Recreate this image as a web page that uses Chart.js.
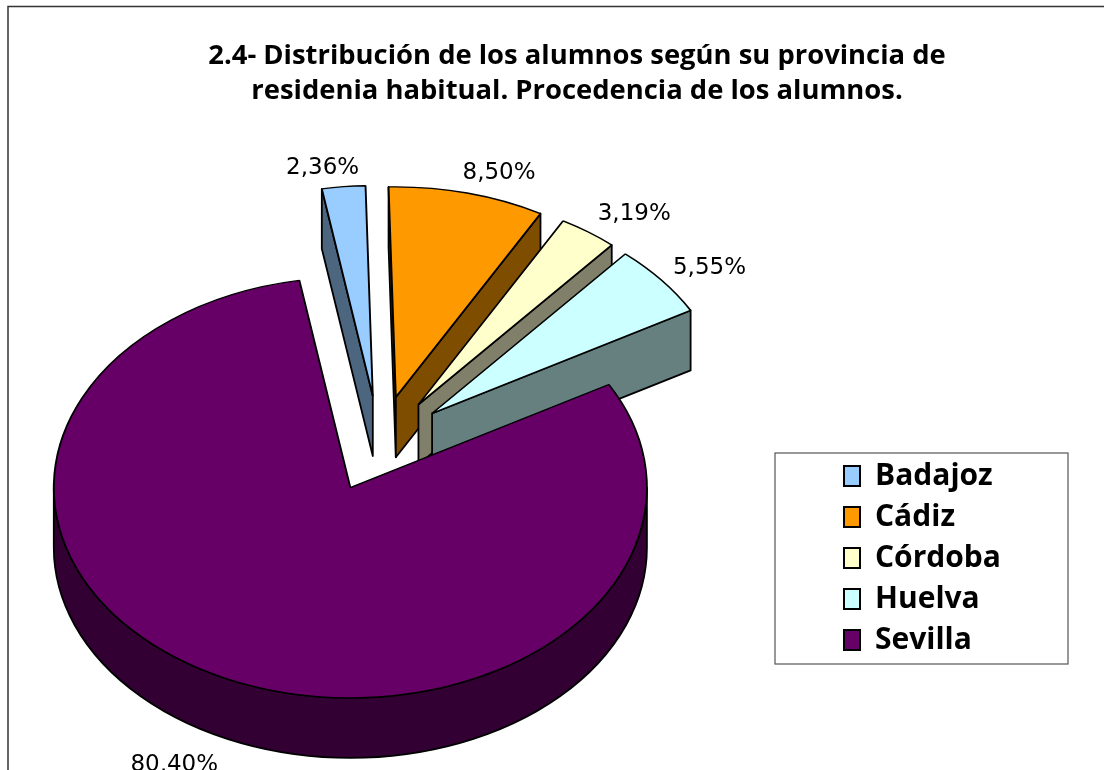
<!DOCTYPE html>
<html lang="es">
<head>
<meta charset="utf-8">
<title>Procedencia de los alumnos</title>
<script src="https://cdn.jsdelivr.net/npm/chart.js@4/dist/chart.umd.min.js"></script>
<style>html,body{margin:0;padding:0;background:#fff;overflow:hidden}canvas{display:block}</style>
</head>
<body>
<canvas id="c" width="1104" height="770"></canvas>
<script>
const provinces = ['Badajoz', 'Cádiz', 'Córdoba', 'Huelva', 'Sevilla'];
const shares = [2.36, 8.50, 3.19, 5.55, 80.40];
const topColors = ['#99CCFF', '#FF9900', '#FFFFCC', '#CCFFFF', '#660066'];
const sideColors = ['#4D667F', '#7F4D00', '#80806A', '#667F7F', '#330033'];
const titleLines = ['2.4- Distribución de los alumnos según su provincia de', 'residenia habitual. Procedencia de los alumnos.'];

// Style and layout of the tilted, exploded pie
const tilt = 211 / 297.5;
const depth = 60;
const explode = 68;
const pieArea = { left: 82, top: 146.5, right: 677, bottom: 741.5, width: 595, height: 595 };
const legendBox = { left: 775, top: 453, right: 1068, bottom: 664 };
const labelNudge = [[-21, -19], [32, -20], [46, -18], [48, -12], [-49, 87]];

function centre(arc) {
  const mid = (arc.startAngle + arc.endAngle) / 2;
  return { x: arc.x + explode * Math.cos(mid), y: arc.y + explode * tilt * Math.sin(mid), mid };
}

function wall(ctx, c, angle, r, color) {
  const rx = c.x + r * Math.cos(angle), ry = c.y + r * tilt * Math.sin(angle);
  ctx.beginPath();
  ctx.moveTo(c.x, c.y);
  ctx.lineTo(rx, ry);
  ctx.lineTo(rx, ry + depth);
  ctx.lineTo(c.x, c.y + depth);
  ctx.closePath();
  ctx.fillStyle = color;
  ctx.fill();
  ctx.stroke();
}

const pie3d = {
  id: 'pie3d',
  afterLayout(chart) {
    chart.chartArea = Object.assign({}, pieArea);
    const t = chart.titleBlock;
    t.left = 50; t.right = 1104; t.width = 1054;
    const l = chart.legend;
    l.left = 833; l.top = 450; l.right = legendBox.right; l.bottom = 720;
    l.width = l.right - l.left; l.height = l.bottom - l.top;
  },
  beforeDraw(chart) {
    const ctx = chart.ctx;
    ctx.save();
    ctx.fillStyle = '#fff';
    ctx.fillRect(0, 0, chart.width, chart.height);
    ctx.strokeStyle = '#333';
    ctx.lineWidth = 1.5;
    ctx.beginPath();
    ctx.moveTo(8, 770);
    ctx.lineTo(8, 6.5);
    ctx.lineTo(1104, 6.5);
    ctx.stroke();
    ctx.strokeStyle = '#555';
    ctx.lineWidth = 1.2;
    ctx.strokeRect(legendBox.left, legendBox.top, legendBox.right - legendBox.left, legendBox.bottom - legendBox.top);
    ctx.restore();
  },
  beforeDatasetDraw(chart, args) {
    const ctx = chart.ctx;
    const arcs = chart.getDatasetMeta(args.index).data;
    arcs.forEach((arc, i) => {
      const c = centre(arc);
      const r = arc.outerRadius, a0 = arc.startAngle, a1 = arc.endAngle;
      ctx.save();
      ctx.strokeStyle = '#000';
      ctx.lineWidth = 1.8;
      ctx.lineJoin = 'round';
      if (Math.cos(a0) < 0) wall(ctx, c, a0, r, sideColors[i]);
      if (Math.cos(a1) > 0) wall(ctx, c, a1, r, sideColors[i]);
      const lo = Math.max(a0, 0), hi = Math.min(a1, Math.PI);
      if (hi > lo) {
        ctx.beginPath();
        ctx.ellipse(c.x, c.y, r, r * tilt, 0, lo, hi);
        ctx.ellipse(c.x, c.y + depth, r, r * tilt, 0, hi, lo, true);
        ctx.closePath();
        ctx.fillStyle = sideColors[i];
        ctx.fill();
        ctx.stroke();
      }
      ctx.translate(c.x, c.y);
      ctx.scale(1, tilt);
      ctx.translate(-arc.x, -arc.y);
      arc.draw(ctx);
      ctx.restore();
    });
    return false;
  },
  afterDatasetsDraw(chart) {
    const ctx = chart.ctx;
    const arcs = chart.getDatasetMeta(0).data;
    ctx.save();
    ctx.fillStyle = '#000';
    ctx.font = '23px "DejaVu Sans"';
    ctx.textAlign = 'center';
    ctx.textBaseline = 'middle';
    arcs.forEach((arc, i) => {
      const c = centre(arc);
      const x = c.x + arc.outerRadius * Math.cos(c.mid) + labelNudge[i][0];
      const y = c.y + arc.outerRadius * tilt * Math.sin(c.mid) + labelNudge[i][1];
      ctx.fillText(shares[i].toFixed(2).replace('.', ',') + '%', x, y);
    });
    ctx.restore();
  }
};

new Chart(document.getElementById('c'), {
  type: 'pie',
  data: {
    labels: provinces,
    datasets: [{
      data: shares,
      backgroundColor: topColors,
      borderColor: '#000',
      borderWidth: 1.9
    }]
  },
  plugins: [pie3d],
  options: {
    responsive: false,
    animation: false,
    events: [],
    rotation: -9.9,
    plugins: {
      tooltip: { enabled: false },
      title: {
        display: true,
        text: titleLines,
        color: '#000',
        font: { family: '"Open Sans"', size: 27.4, weight: 'bold', lineHeight: '35px' },
        padding: { top: 38.5, bottom: 10 }
      },
      legend: {
        display: true,
        position: 'right',
        align: 'start',
        labels: {
          color: '#000',
          boxWidth: 16,
          boxHeight: 20,
          padding: 11,
          font: { family: '"Open Sans"', size: 30, weight: 'bold' },
          generateLabels(chart) {
            return Chart.overrides.pie.plugins.legend.labels.generateLabels(chart)
              .map(item => Object.assign(item, { lineWidth: 2, strokeStyle: '#000' }));
          }
        }
      }
    }
  }
});
</script>
</body>
</html>
